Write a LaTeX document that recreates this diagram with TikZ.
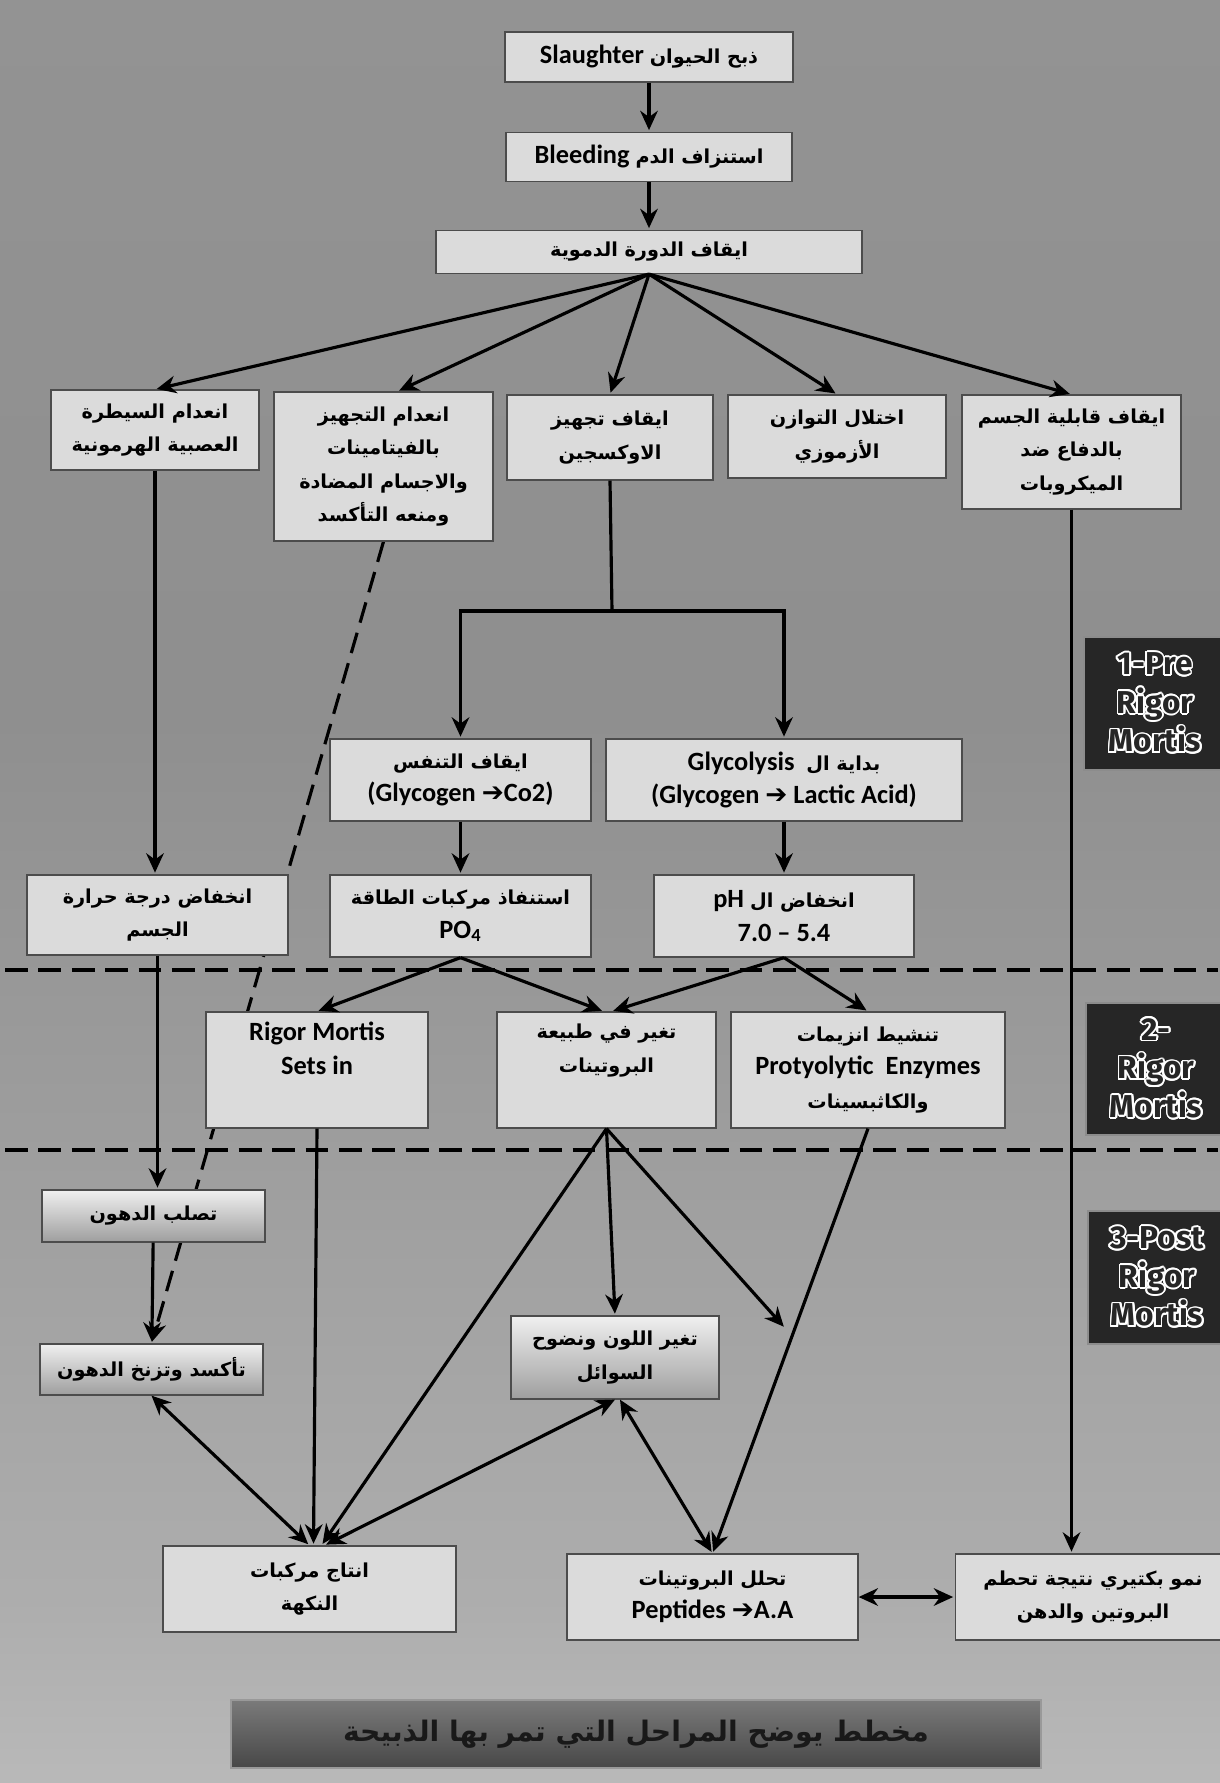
\documentclass[tikz,border=0pt]{standalone}
\usepackage{fontspec}
\setmainfont{Carlito}
\newfontfamily\arabicfont[Script=Arabic,Scale=0.73]{DejaVu Sans}
\newfontfamily\symbfont{DejaVu Sans}
\newfontfamily\stagefont{Fira Sans}
\usepackage{contour}
\contourlength{1pt}
\TeXXeTstate=1
\usetikzlibrary{positioning, arrows.meta, backgrounds}

\newcommand{\arb}[1]{{\arabicfont\beginR #1\endR}}
\newcommand{\rarr}{{\symbfont ➔}}
\pgfdeclareverticalshading{bgshade}{100bp}{color(0bp)=(black!8); color(12bp)=(black!16); color(30bp)=(black!32); color(55bp)=(black!44); color(80bp)=(black!42); color(100bp)=(black!32)}

\begin{document}
\begin{tikzpicture}[->,>={Stealth[length=11pt,width=10pt]},shorten >=1pt,x=0.2mm,y=-0.2mm,
    node distance=2cm,
    conn/.style={line width=1.8pt},
    every edge/.style={draw,conn},
    box/.style={draw=black!70,line width=0.7pt,fill=black!14,align=center,inner sep=2pt,
        font=\fontsize{15}{19}\selectfont\bfseries},
    shadebox/.style={box,top color=black!6,bottom color=black!38},
    stage/.style={draw=black!45,line width=0.7pt,fill=black!85,align=center,text=black!85,
        font=\stagefont\bfseries\fontsize{18}{22}\selectfont},
    sep line/.style={-,dashed,dash pattern=on 13pt off 6pt,line width=1.8pt}]
\useasboundingbox (0,0) rectangle (1220,1783);

% start of the chain
\node[box,minimum width=5.76cm,minimum height=1cm]   (slaughter) at (649,57)  {Slaughter \arb{ذبح الحيوان}};
\node[box,minimum width=5.72cm,minimum height=0.98cm] (bleeding) [below of=slaughter] {Bleeding \arb{استنزاف الدم}};
\node[box,minimum width=8.52cm,minimum height=0.86cm] (circ) [below of=bleeding,node distance=1.9cm] {\arb{ايقاف الدورة الدموية}};

% first effects
\node[box,minimum width=4.16cm,minimum height=1.6cm]  (nerve)    at (155,430)    {\arb{انعدام السيطرة}\\\arb{العصبية الهرمونية}};
\node[box,minimum width=4.38cm,minimum height=2.98cm] (vitamins) at (383.5,466.5) {\arb{انعدام التجهيز}\\\arb{بالفيتامينات}\\\arb{والاجسام المضادة}\\\arb{ومنعه التأكسد}};
\node[box,minimum width=4.12cm,minimum height=1.7cm]  (oxygen)   at (610,437.5)  {\arb{ايقاف تجهيز}\\\arb{الاوكسجين}};
\node[box,minimum width=4.36cm,minimum height=1.66cm] (osmotic)  at (837,436.5)  {\arb{اختلال التوازن}\\\arb{الأزموزي}};
\node[box,minimum width=4.38cm,minimum height=2.28cm] (immunity) at (1071.5,452) {\arb{ايقاف قابلية الجسم}\\\arb{بالدفاع ضد}\\\arb{الميكروبات}};

\node[box,minimum width=5.22cm,minimum height=1.64cm] (respir) at (460.5,780) {\arb{ايقاف التنفس}\\(Glycogen \rarr Co2)};
\node[box,minimum width=7.12cm,minimum height=1.64cm] (glyco)  at (784,780)   {Glycolysis\ \ \arb{بداية ال}\\(Glycogen \rarr{} Lactic Acid)};

\node[box,minimum width=5.22cm,minimum height=1.6cm]  (temp)   at (157.5,915) {\arb{انخفاض درجة حرارة}\\\arb{الجسم}};
\node[box,minimum width=5.22cm,minimum height=1.64cm] (energy) at (460.5,916) {\arb{استنفاذ مركبات الطاقة}\\PO\textsubscript{4}};
\node[box,minimum width=5.2cm,minimum height=1.64cm]  (ph)     at (784,916)   {pH \arb{انخفاض ال}\\7.0 – 5.4};

% rigor mortis
\node[box,minimum width=4.44cm,minimum height=2.32cm] (rigor)   at (317,1070)   {Rigor Mortis\\Sets in\\[6pt]};
\node[box,minimum width=4.38cm,minimum height=2.32cm] (protein) at (606.5,1070) {\arb{تغير في طبيعة}\\\arb{البروتينات}\\[6pt]};
\node[box,minimum width=5.48cm,minimum height=2.32cm] (enzymes) at (868,1070)   {\arb{تنشيط انزيمات}\\Protyolytic\ \ Enzymes\\\arb{والكاثبسينات}};

% post rigor
\node[shadebox,minimum width=4.46cm,minimum height=1.04cm] (harden) at (153.5,1216)  {\arb{تصلب الدهون}};
\node[shadebox,minimum width=4.46cm,minimum height=1.02cm] (oxid)   at (151.5,1369.5) {\arb{تأكسد وتزنخ الدهون}};
\node[shadebox,minimum width=4.16cm,minimum height=1.66cm] (colour) at (615,1357.5)   {\arb{تغير اللون ونضوح}\\\arb{السوائل}};

\node[box,minimum width=5.86cm,minimum height=1.72cm] (flavor)      at (309.5,1589) {\arb{انتاج مركبات}\\\arb{النكهة}};
\node[box,minimum width=5.82cm,minimum height=1.72cm] (proteolysis) at (712.5,1597) {\arb{تحلل البروتينات}\\Peptides \rarr A.A};
\node[box,minimum width=5.5cm,minimum height=1.72cm]  (bacteria)    at (1093,1597)  {\arb{نمو بكتيري نتيجة تحطم}\\\arb{البروتين والدهن}};

% stage labels
\node[stage,minimum width=2.84cm,minimum height=2.66cm] (stage1) at (1155,703.5)  {\contour{white}{1-Pre}\\\contour{white}{Rigor}\\\contour{white}{Mortis}};
\node[stage,minimum width=2.8cm,minimum height=2.64cm]  (stage2) at (1156,1069)   {\contour{white}{2-}\\\contour{white}{Rigor}\\\contour{white}{Mortis}};
\node[stage,minimum width=2.76cm,minimum height=2.66cm] (stage3) at (1157,1277.5) {\contour{white}{3-Post}\\\contour{white}{Rigor}\\\contour{white}{Mortis}};

\node[draw=black!40,line width=0.7pt,top color=black!52,bottom color=black!72,minimum width=16.2cm,minimum height=1.36cm,
    font=\fontsize{22}{26}\selectfont\bfseries,text=black!90] (title) at (636,1734) {\arb{مخطط يوضح المراحل التي تمر بها الذبيحة}};

\coordinate (split) at (612,611);
\coordinate (loose) at (785,1328);

\begin{pgfonlayer}{background}
\fill[shading=bgshade] (0,0) rectangle (1220,1783);
\draw[sep line] (5,970) -- (1220,970);
\draw[sep line] (5,1150) -- (1220,1150);
\draw[conn,dashed,dash pattern=on 12pt off 6pt] (vitamins.south) -- (oxid.north);
\end{pgfonlayer}

\path[]
(slaughter) edge (bleeding)
(bleeding) edge (circ)
(circ.south) edge (nerve.north)
(circ.south) edge ([xshift=0.28cm]vitamins.north)
(circ.south) edge (oxygen.north)
(circ.south) edge (osmotic.north)
(circ.south) edge (immunity.north)
(respir) edge (energy)
(glyco) edge (ph)
(nerve.south) edge (nerve.south |- temp.north)
(energy.south) edge (rigor.north)
(energy.south) edge ([xshift=-0.06cm]protein.north)
(ph.south) edge ([xshift=0.1cm]protein.north)
(ph.south) edge (enzymes.north)
(temp.south) edge (temp.south |- harden.north)
(harden) edge (oxid)
(rigor.south) edge ([xshift=0.08cm]flavor.north)
(protein.south) edge ([xshift=0.24cm]flavor.north)
(protein.south) edge (colour.north)
(protein.south) edge (loose)
(enzymes.south) edge (proteolysis.north)
(immunity.south) edge (immunity.south |- bacteria.north);
\draw[conn,-] (oxygen.south) -- (split);
\draw[conn] (split) -| (respir.north);
\draw[conn] (split) -| (glyco.north);
\draw[conn,<->] (oxid.south) -- (flavor.north);
\draw[conn,<->] (colour.south) -- ([xshift=0.3cm]flavor.north);
\draw[conn,<->] ([xshift=0.1cm]colour.south) -- (proteolysis.north);
\draw[conn,<->] (proteolysis) -- (bacteria);
\end{tikzpicture}
\end{document}
